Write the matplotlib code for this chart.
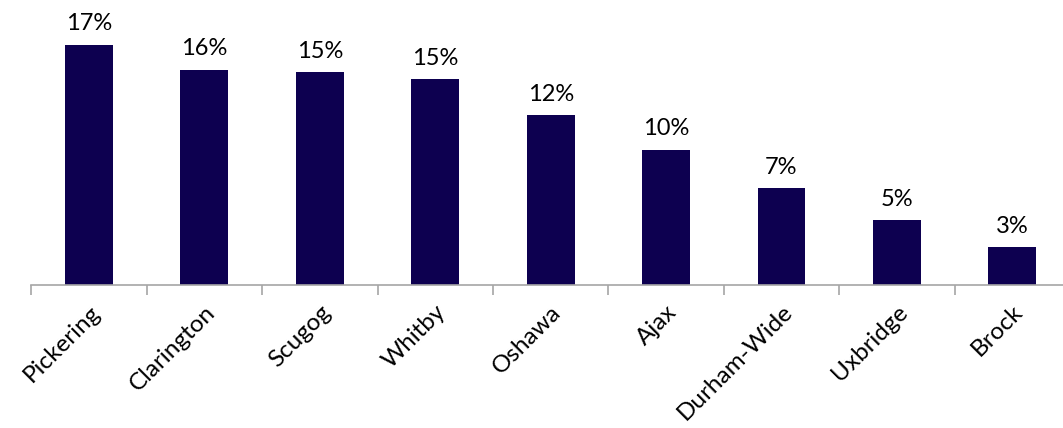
import matplotlib
matplotlib.use("Agg")
import matplotlib.pyplot as plt
import numpy as np

categories = ["Pickering", "Clarington", "Scugog", "Whitby", "Oshawa", "Ajax",
              "Durham-Wide", "Uxbridge", "Brock"]
values = [17.4, 15.6, 15.4, 14.9, 12.3, 9.8, 7.0, 4.7, 2.7]

plt.rcParams['font.family'] = ['Lato', 'DejaVu Sans']

W, H = 1063, 428
fig = plt.figure(figsize=(W/100, H/100), dpi=100)
left = 31.3 / W
bottom = (H - 284.7) / H
ax = fig.add_axes([left, bottom, 1038.7 / W, 1 - bottom])

x = np.arange(len(categories))
bars = ax.bar(x, values, width=0.415, color="#0D0050", zorder=2)
for xi, v in zip(x, values):
    ax.text(xi, v + 0.75, f"{round(v):.0f}%", ha="center", va="bottom", fontsize=17, color="#000000")

ax.set_xlim(-0.5, len(categories) - 0.5)
ax.set_ylim(0, 17.4 * 284.7 / 240)
for s in ["top", "right", "left"]:
    ax.spines[s].set_visible(False)
ax.spines["bottom"].set_color("#A6A6A6")
ax.spines["bottom"].set_linewidth(1.2)
ax.set_yticks([])
ax.set_xticks(np.arange(len(categories) + 1) - 0.5)
ax.set_xticklabels([])
ax.tick_params(axis="x", length=7, width=1.2, color="#A6A6A6")
ax.set_xticks(x, minor=True)
ax.set_xticklabels(categories, minor=True, rotation=45, ha="right", va="top",
                   rotation_mode="anchor", fontsize=17.5)
ax.tick_params(axis="x", which="minor", length=0, pad=12)

fig.savefig("out.png", dpi=100)
